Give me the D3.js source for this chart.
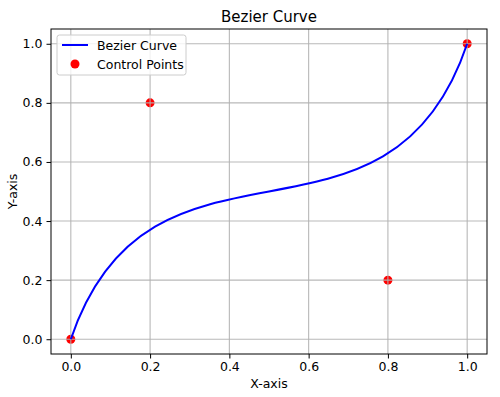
<!DOCTYPE html>
<html>
<head>
<meta charset="utf-8">
<script src="https://cdn.jsdelivr.net/npm/d3@7"></script>
<style>
  body { margin: 0; background: #fff; }
  text { font-family: "DejaVu Sans", sans-serif; fill: #000; }
</style>
</head>
<body>
<svg id="chart" width="500" height="397"></svg>
<script>
// control points of the cubic bezier
var controlX = [0.0, 0.2, 0.8, 1.0];
var controlY = [0.0, 0.8, 0.2, 1.0];
var xTicks = [0.0, 0.2, 0.4, 0.6, 0.8, 1.0];
var yTicks = [0.0, 0.2, 0.4, 0.6, 0.8, 1.0];

var margin = {left: 51, right: 13, top: 29, bottom: 43};
var width = 500, height = 397;

var svg = d3.select("#chart");
var x = d3.scaleLinear().domain([-0.05, 1.05]).range([margin.left, width - margin.right]);
var y = d3.scaleLinear().domain([-0.05, 1.05]).range([height - margin.bottom, margin.top]);

// control points first, grid drawn over them like matplotlib
var pts = controlX.map(function (d, i) { return {x: d, y: controlY[i]}; });
svg.append("g").selectAll("circle").data(pts).enter().append("circle")
    .attr("cx", function (d) { return x(d.x); })
    .attr("cy", function (d) { return y(d.y); })
    .attr("r", 4.5)
    .style("fill", "#ff0000");

// grid
var grid = svg.append("g").style("stroke", "#b0b0b0").style("stroke-width", 1.1).style("stroke-opacity", 0.9);
grid.selectAll("line.gx").data(xTicks).enter().append("line").attr("class", "gx")
    .attr("x1", function (d) { return x(d); }).attr("x2", function (d) { return x(d); })
    .attr("y1", y(-0.05)).attr("y2", y(1.05));
grid.selectAll("line.gy").data(yTicks).enter().append("line").attr("class", "gy")
    .attr("y1", function (d) { return y(d); }).attr("y2", function (d) { return y(d); })
    .attr("x1", x(-0.05)).attr("x2", x(1.05));

// bezier curve
var p = d3.path();
p.moveTo(x(controlX[0]), y(controlY[0]));
p.bezierCurveTo(x(controlX[1]), y(controlY[1]), x(controlX[2]), y(controlY[2]), x(controlX[3]), y(controlY[3]));
svg.append("path").attr("d", p.toString())
    .style("fill", "none").style("stroke", "#0000ff").style("stroke-width", 2);

// axes
svg.append("g").attr("transform", "translate(0," + (height - margin.bottom) + ")")
    .call(d3.axisBottom(x).tickValues(xTicks).tickFormat(d3.format(".1f")).tickSize(4.5).tickPadding(4));
svg.append("g").attr("transform", "translate(" + margin.left + ",0)")
    .call(d3.axisLeft(y).tickValues(yTicks).tickFormat(d3.format(".1f")).tickSize(4.5).tickPadding(4));
svg.selectAll(".domain").remove();
svg.selectAll(".tick text").style("font-size", "12.5px").style("font-family", "DejaVu Sans");
svg.selectAll(".tick line").style("stroke", "#000").style("stroke-width", 1);

svg.append("rect")
    .attr("x", x(-0.05)).attr("y", y(1.05))
    .attr("width", x(1.05) - x(-0.05)).attr("height", y(-0.05) - y(1.05))
    .style("fill", "none").style("stroke", "#000").style("stroke-width", 1);

// labels
svg.append("text").attr("x", (x(-0.05) + x(1.05)) / 2).attr("y", 22)
    .attr("text-anchor", "middle").style("font-size", "15px").text("Bezier Curve");
svg.append("text").attr("x", (x(-0.05) + x(1.05)) / 2).attr("y", 388)
    .attr("text-anchor", "middle").style("font-size", "12.5px").text("X-axis");
svg.append("text").attr("transform", "translate(17," + (y(-0.05) + y(1.05)) / 2 + ") rotate(-90)")
    .attr("text-anchor", "middle").style("font-size", "12.5px").text("Y-axis");

// legend
var lg = svg.append("g");
lg.append("rect").attr("x", 57).attr("y", 35).attr("width", 129).attr("height", 40).attr("rx", 2.5)
    .style("fill", "#fff").style("fill-opacity", 0.8).style("stroke", "#cccccc");
lg.append("line").attr("x1", 62).attr("x2", 88).attr("y1", 45).attr("y2", 45)
    .style("stroke", "#0000ff").style("stroke-width", 2);
lg.append("circle").attr("cx", 75).attr("cy", 64).attr("r", 4.5).style("fill", "#ff0000");
lg.append("text").attr("x", 97).attr("y", 50).style("font-size", "12.5px").text("Bezier Curve");
lg.append("text").attr("x", 97).attr("y", 69).style("font-size", "12.5px").text("Control Points");
</script>
</body>
</html>
